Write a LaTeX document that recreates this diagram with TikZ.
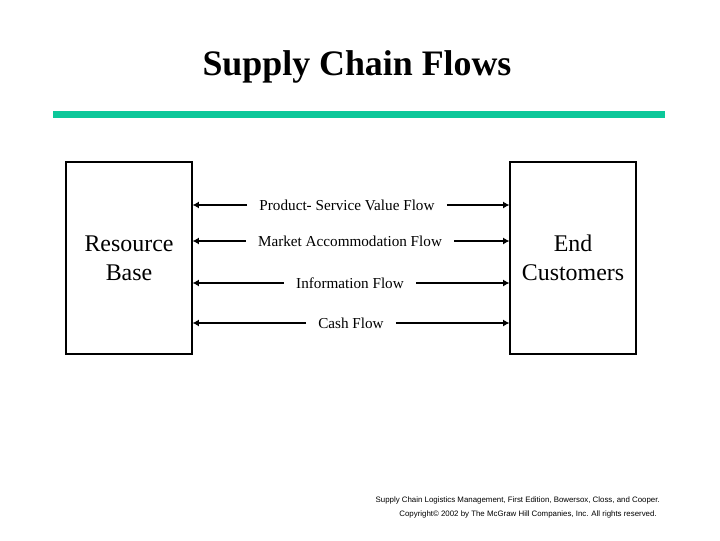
\documentclass[tikz,border=0pt]{standalone}
\usepackage{fontspec}
\setmainfont{Liberation Serif}
\setsansfont{Liberation Sans}
\usetikzlibrary{positioning, arrows.meta, calc}
\definecolor{bargreen}{RGB}{12,200,154}
\tikzset{
	boxtext/.style={draw, line width=0.8pt, minimum width=3.15cm, minimum height=4.8cm, align=center, font=\fontsize{17}{20.5}\selectfont}
}
\tikzset{
	flowtext/.style={inner xsep=0.3cm, inner ysep=0pt, font=\fontsize{10.8}{12}\selectfont}
}
\tikzset{
	flowline/.style={line width=1.5pt, -{Latex[length=4.5pt, width=5pt]}}
}
\tikzset{
	creditline/.style={inner sep=0pt, anchor=east, font=\sffamily\fontsize{5.6}{6}\selectfont}
}

\begin{document}
\begin{tikzpicture}[x=0.025cm, y=-0.025cm]
      \useasboundingbox (0,0) rectangle (720,540);
      \node[font=\bfseries\fontsize{25.5}{28}\selectfont] (T) at (357,67) {Supply Chain Flows};
      \fill[bargreen] (53,111) rectangle (665,117.5);
      \node[boxtext] (RB) at (129,258) {Resource\\Base};
      \node[boxtext] (EC) at (573,258) {End\\Customers};
      % flows between the two boxes
      \node[flowtext] (F1) at (347,205) {Product- Service Value Flow};
      \node[flowtext] (F2) at (350,241) {Market Accommodation Flow};
      \node[flowtext] (F3) at (350,283) {Information Flow};
      \node[flowtext] (F4) at (351,323) {Cash Flow};
      \foreach \f in {F1, F2, F3, F4} {
        \draw[flowline] (\f.west) -- (\f.west -| RB.east);
        \draw[flowline] (\f.east) -- (\f.east -| EC.west);
      }
      \node[creditline] (C1) at (660,500) {Supply Chain Logistics Management, First Edition, Bowersox, Closs, and Cooper.};
      \node[creditline] (C2) at (657,514) {Copyright\textcopyright{} 2002 by The McGraw Hill Companies, Inc. All rights reserved.};
    \end{tikzpicture}
\end{document}
